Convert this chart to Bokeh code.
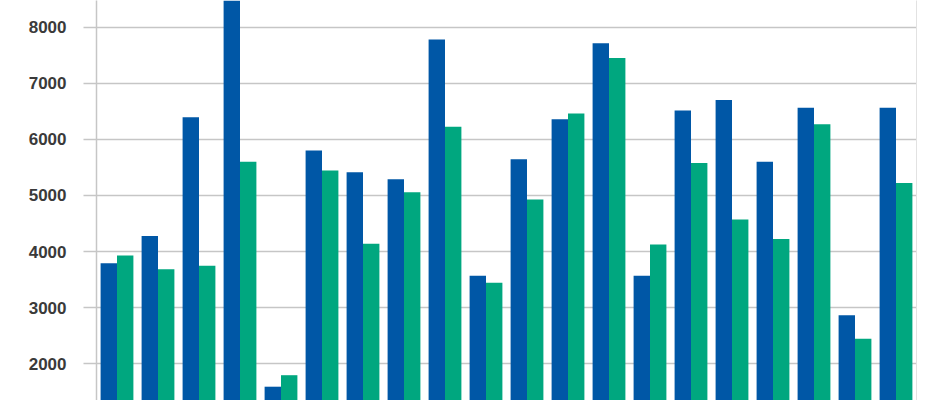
from bokeh.plotting import figure
from bokeh.models import FactorRange, Range1d, FixedTicker, LinearAxis, ColumnDataSource
from bokeh.transform import dodge
from bokeh.embed import file_html
from bokeh.resources import INLINE

categories = [str(i) for i in range(1, 21)]
series_a = [3790, 4275, 6395, 9000, 1590, 5800, 5415, 5290, 7780, 3570,
            5645, 6360, 7715, 3570, 6515, 6700, 5600, 6565, 2865, 6565]
series_b = [3930, 3685, 3745, 5600, 1795, 5445, 4140, 5055, 6225, 3445,
            4930, 6460, 7450, 4125, 5580, 4570, 4225, 6270, 2445, 5220]
y_ticks = [2000, 3000, 4000, 5000, 6000, 7000, 8000]

src = ColumnDataSource(dict(cat=categories, a=series_a, b=series_b))

p = figure(width=940, height=400, output_backend="svg", toolbar_location=None,
           x_range=FactorRange(*categories, range_padding=0),
           y_range=Range1d(1344, 8476),
           min_border_left=96, min_border_right=24, min_border_top=0, min_border_bottom=0)

p.vbar(x=dodge("cat", -0.2, range=p.x_range), top="a", bottom=0, width=0.4, source=src,
       fill_color="#0057a6", line_color=None)
p.vbar(x=dodge("cat", 0.2, range=p.x_range), top="b", bottom=0, width=0.4, source=src,
       fill_color="#00a77f", line_color=None)

p.xaxis.visible = False
p.xgrid.grid_line_color = None
p.ygrid.ticker = FixedTicker(ticks=y_ticks)
p.ygrid.grid_line_color = "#c6c6c6"
p.ygrid.grid_line_width = 1.5

ax = p.yaxis[0]
ax.ticker = FixedTicker(ticks=y_ticks)
ax.axis_line_color = "#c6c6c6"
ax.axis_line_width = 1.5
ax.major_tick_line_color = "#c6c6c6"
ax.major_tick_line_width = 1.5
ax.major_tick_out = 13
ax.major_tick_in = 0
ax.minor_tick_line_color = None
ax.major_label_standoff = 17
ax.major_label_text_font = "Liberation Sans"
ax.major_label_text_font_size = "17px"
ax.major_label_text_font_style = "bold"
ax.major_label_text_color = "#3a3a3a"

rax = LinearAxis(ticker=FixedTicker(ticks=[]), axis_line_color="#e2e2e2",
                 major_tick_line_color=None, minor_tick_line_color=None,
                 major_label_text_font_size="0px", major_label_standoff=0)
p.add_layout(rax, "right")

p.outline_line_color = None
p.background_fill_color = "white"
p.border_fill_color = "white"

open("out.html", "w").write(file_html(p, INLINE))
